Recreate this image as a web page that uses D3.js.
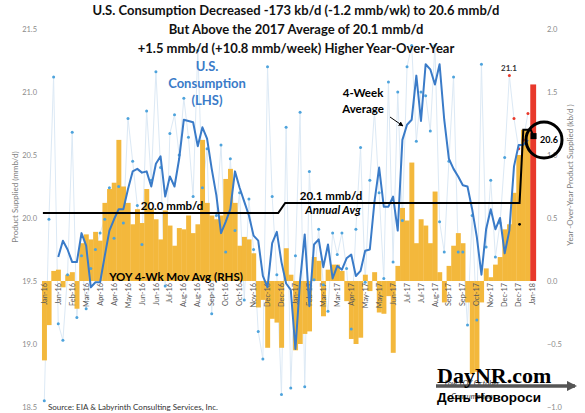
<!DOCTYPE html>
<html><head><meta charset="utf-8">
<script src="https://cdn.jsdelivr.net/npm/d3@7"></script>
<style>body{margin:0;background:#fff}svg{display:block;font-family:Lato,'Open Sans',sans-serif}</style>
</head><body><svg id="c" width="585" height="413"></svg>
<script>
// ---------- DATA ----------
const weekLabels = ["Jan-16","Jan-16","Feb-16","Mar-16","Apr-16","Apr-16","May-16","Jun-16","Jun-16","Jul-16","Aug-16","Aug-16","Sep-16","Oct-16","Oct-16","Nov-16","Dec-16","Dec-16","Jan-17","Feb-17","Mar-17","Mar-17","Apr-17","May-17","May-17","Jun-17","Jul-17","Jul-17","Aug-17","Sep-17","Sep-17","Oct-17","Nov-17","Dec-17","Dec-17","Jan-18"];
const labelEvery = 3;
// YOY 4-wk moving average (RHS, mmb/d), weeks 0..105
const yoyBars = [-0.63,-0.35,0.08,0.09,-0.05,0.05,0.07,-0.22,0.30,0.37,0.33,0.39,0.32,0.62,0.73,0.78,1.12,0.75,0.62,0.45,0.57,0.46,0.73,0.57,0.49,0.33,0.56,0.44,0.28,0.42,0.41,0.52,0.38,0.45,1.12,0.62,0.52,0.49,0.52,0.81,0.89,0.62,0.28,0.35,0.33,0.22,
 -0.21,-0.15,-0.53,-0.30,-0.33,-0.53,0.26,0.05,-0.55,-0.50,-0.42,-0.40,0.19,0.16,-0.28,0.09,0.13,0.13,0.08,-0.16,-0.46,-0.50,-0.45,0.05,-0.08,0.07,-0.25,-0.26,-0.12,-0.57,
 0.12,0.58,0.48,0.94,0.30,0.49,0.44,0.30,0.71,0.07,-0.17,0.12,0.28,0.38,0.30,-0.17,-0.74,-0.72,-0.17,0.10,0.03,0.13,0.19,0.41,0.45,0.70,1.00,1.20,1.20,1.56];
const highlightBar = 105;
// Weekly product supplied (LHS, mmb/d), weeks 0..104
const weeklyValues = [18.55,19.99,21.12,19.16,19.03,19.55,20.68,19.21,19.70,19.28,19.60,19.75,19.88,19.99,20.24,19.84,20.25,19.96,20.79,20.45,20.10,19.79,20.85,20.30,21.16,20.40,19.46,20.67,20.82,20.50,20.95,20.64,20.17,21.33,20.24,20.55,19.24,20.02,20.58,19.73,20.47,19.90,20.20,19.35,20.15,19.75,19.10,18.88,21.20,20.17,19.55,18.60,20.72,18.65,19.70,20.84,18.66,20.37,19.51,19.91,19.47,19.26,19.88,19.71,19.88,19.60,19.12,19.91,20.56,19.49,20.30,20.85,20.20,19.52,21.08,19.65,21.00,19.98,21.20,21.37,20.61,21.00,20.97,20.69,21.37,19.97,19.73,20.45,21.12,19.73,19.73,19.15,20.02,19.19,21.22,19.77,20.30,19.69,19.96,20.48,21.13,20.79,20.55,20.62,20.83];
const recentFrom = 100;
// 4-week average (LHS), weeks 3..104
const avgStart = 3;
const fourWeekAvg = [19.69,19.82,19.75,19.65,19.65,19.88,19.78,19.45,19.49,19.49,19.70,19.90,19.99,20.07,20.07,20.23,20.37,20.39,20.36,20.37,20.25,20.43,20.49,20.17,20.33,20.25,20.47,20.78,20.77,20.76,20.57,20.72,20.63,20.39,20.18,19.88,19.97,20.07,20.37,20.24,20.13,20.02,19.86,19.82,
 19.54,19.45,19.80,19.89,19.65,19.48,19.43,18.96,19.50,19.87,19.30,19.79,19.83,19.61,19.79,19.52,19.62,19.59,19.68,19.71,19.54,19.58,19.74,19.75,20.13,20.40,20.09,20.09,20.17,19.90,20.62,20.74,20.78,21.13,20.77,21.22,21.18,21.06,21.22,20.78,20.47,20.39,20.33,20.26,20.25,20.07,19.85,19.55,19.91,20.07,19.91,20.00,19.72,19.90,20.41,20.58,20.58,20.62];
// Annual average step line (LHS)
const annualAvgWeek = [-0.3,50.3,51.8,102.2,103.0,104.6,105.2];
const annualAvgValue = [20.04,20.04,20.12,20.12,20.70,20.70,20.65];
const latestWeek = 105.2, latestValue = 20.65;
const yoyMarkerWeek = 102.2, yoyMarkerValue = 0.45;
const leftTicks = [18.5,19.0,19.5,20.0,20.5,21.0,21.5];
const rightTicks = [-1.0,-0.5,0.0,0.5,1.0,1.5,2.0];
const titleLines = ["U.S. Consumption Decreased -173 kb/d (-1.2 mmb/wk) to 20.6 mmb/d","But Above the 2017 Average of 20.1 mmb/d","+1.5 mmb/d (+10.8 mmb/week) Higher Year-Over-Year"];

// ---------- SCALES ----------
const svg = d3.select("#c");
const x = d3.scaleLinear().domain([0,105]).range([44.3,532.6]);
const step = x(1)-x(0);
const yL = d3.scaleLinear().domain([18.5,21.5]).range([407,29]);
const yR = d3.scaleLinear().domain([-1,2]).range([407,29]);

// faint weekly line
svg.append("path").datum(weeklyValues)
  .attr("fill","none").attr("stroke","#dce9f5").attr("stroke-width",1)
  .attr("d", d3.line().x((d,i)=>x(i)).y(d=>yL(d)));

// bars
svg.append("g").selectAll("rect").data(yoyBars).join("rect")
  .attr("x",(d,i)=>x(i)-step/2).attr("width",(d,i)=> i===highlightBar? step+1.2 : step+0.3)
  .attr("y",d=>Math.min(yR(d),yR(0))).attr("height",d=>Math.abs(yR(d)-yR(0)))
  .attr("fill",(d,i)=> i===highlightBar? "#e8392b" : "#f3b83c");

// x labels
svg.append("g").selectAll("text").data(weekLabels).join("text")
  .attr("transform",(d,i)=>`translate(${x(i*labelEvery)+2.6},${yR(0)+2}) rotate(-90)`)
  .attr("text-anchor","end").attr("font-size",7.3).attr("fill","#595959").text(d=>d);

// dots
svg.append("g").selectAll("circle").data(weeklyValues).join("circle")
  .attr("cx",(d,i)=>x(i)).attr("cy",d=>yL(d)).attr("r",1.5)
  .attr("fill",(d,i)=> i>=recentFrom ? "#e8392b" : "#4ea3dc");

// 4-week average line
svg.append("path").datum(fourWeekAvg)
  .attr("fill","none").attr("stroke","#3a7bc8").attr("stroke-width",2).attr("stroke-linejoin","round")
  .attr("d", d3.line().x((d,i)=>x(i+avgStart)).y(d=>yL(d)));

// annual avg line
svg.append("path").datum(annualAvgWeek.map((w,i)=>[w,annualAvgValue[i]]))
  .attr("fill","none").attr("stroke","#000").attr("stroke-width",2)
  .attr("d", d3.line().x(d=>x(d[0])).y(d=>yL(d[1])));
svg.append("rect").attr("x",x(latestWeek)-3).attr("y",yL(latestValue)-3).attr("width",6).attr("height",6).attr("fill","#000");
svg.append("circle").attr("cx",x(yoyMarkerWeek)).attr("cy",yR(yoyMarkerValue)).attr("r",1.4).attr("fill","#000");

// axes
const la = svg.append("g").attr("transform","translate(37,0)")
  .call(d3.axisLeft(yL).tickValues(leftTicks).tickSize(0).tickPadding(0).tickFormat(d3.format(".1f")));
const ra = svg.append("g").attr("transform","translate(547,0)")
  .call(d3.axisRight(yR).tickValues(rightTicks).tickSize(0).tickPadding(0).tickFormat(d3.format(".1f")));
[la,ra].forEach(a=>{a.select(".domain").remove();a.selectAll("text").attr("font-size",7.5).attr("fill","#8a8a8a").attr("font-family","Lato");});

svg.append("text").attr("transform","translate(18,197) rotate(-90)").attr("text-anchor","middle")
  .attr("font-size",8).attr("fill","#7f7f7f").text("Product Supplied (mmb/d)");
svg.append("text").attr("transform","translate(573,175) rotate(-90)").attr("text-anchor","middle")
  .attr("font-size",8).attr("fill","#7f7f7f").text("Year -Over-Year Product Supplied (kb/d )");

// title
svg.append("g").selectAll("text").data(titleLines).join("text")
  .attr("x",296).attr("y",(d,i)=>15+i*19).attr("text-anchor","middle")
  .attr("font-size",13).attr("font-weight","bold").attr("fill","#111").text(d=>d);

// annotations
const blue = svg.append("g").attr("fill","#3a7bc8").attr("font-weight","bold").attr("font-size",13).attr("text-anchor","middle");
blue.append("text").attr("x",207).attr("y",71).text("U.S.");
blue.append("text").attr("x",207).attr("y",88).text("Consumption");
blue.append("text").attr("x",207).attr("y",105).text("(LHS)");

svg.append("text").attr("x",172).attr("y",210).attr("text-anchor","middle").attr("font-size",11.5).attr("font-weight","bold").text("20.0 mmb/d");
svg.append("text").attr("x",331).attr("y",200).attr("text-anchor","middle").attr("font-size",11.5).attr("font-weight","bold").text("20.1 mmb/d");
svg.append("text").attr("x",333).attr("y",214).attr("text-anchor","middle").attr("font-size",11.5).attr("font-weight","bold").attr("font-style","italic").text("Annual Avg");
svg.append("text").attr("x",176).attr("y",281).attr("text-anchor","middle").attr("font-size",11.5).attr("font-weight","bold").text("YOY 4-Wk Mov Avg (RHS)");

svg.append("text").attr("x",363).attr("y",97).attr("text-anchor","middle").attr("font-size",11.5).attr("font-weight","bold").text("4-Week");
svg.append("text").attr("x",363).attr("y",113).attr("text-anchor","middle").attr("font-size",11.5).attr("font-weight","bold").text("Average");
svg.append("defs").html('<marker id="ah" viewBox="0 0 10 10" refX="9" refY="5" markerWidth="5" markerHeight="5" orient="auto"><path d="M0,0L10,5L0,10z" fill="#000"/></marker><marker id="ah2" viewBox="0 0 10 10" refX="8" refY="5" markerWidth="3" markerHeight="3" orient="auto"><path d="M0,0L10,5L0,10z" fill="#555"/></marker>');
svg.append("line").attr("x1",390).attr("y1",117).attr("x2",403).attr("y2",126).attr("stroke","#000").attr("stroke-width",1).attr("marker-end","url(#ah)");

svg.append("text").attr("x",509).attr("y",71).attr("text-anchor","middle").attr("font-size",8).attr("font-weight","bold").attr("fill","#333").text("21.1");

svg.append("circle").attr("cx",544).attr("cy",140).attr("r",18).attr("fill","none").attr("stroke","#000").attr("stroke-width",3);
svg.append("text").attr("x",549).attr("y",143).attr("text-anchor","middle").attr("font-size",9).attr("font-weight","bold").text("20.6");

svg.append("text").attr("x",48).attr("y",410).attr("font-size",8).attr("fill","#333").text("Source: EIA & Labyrinth Consulting Services, Inc.");

// low YOY annotation + watermark
svg.append("text").attr("x",472).attr("y",386).attr("text-anchor","middle").attr("font-size",7.5).attr("font-style","italic").attr("fill","#333").text("Low YOY October");
svg.append("text").attr("x",472).attr("y",399).attr("text-anchor","middle").attr("font-size",7.5).attr("font-style","italic").attr("fill","#333").text("Consumption");
svg.append("line").attr("x1",436).attr("y1",386).attr("x2",575).attr("y2",386).attr("stroke","#555").attr("stroke-width",3.5).attr("marker-end","url(#ah2)");
svg.append("text").attr("x",437).attr("y",383).attr("font-family","'Liberation Serif','DejaVu Serif',serif").attr("font-weight","bold").attr("font-size",22).attr("fill","#000").text("DayNR.com");
svg.append("text").attr("x",437).attr("y",402).attr("font-family","'Liberation Sans',Arial,sans-serif").attr("font-weight","bold").attr("font-size",13.5).attr("fill","#000").text("День Новороси");
</script></body></html>
